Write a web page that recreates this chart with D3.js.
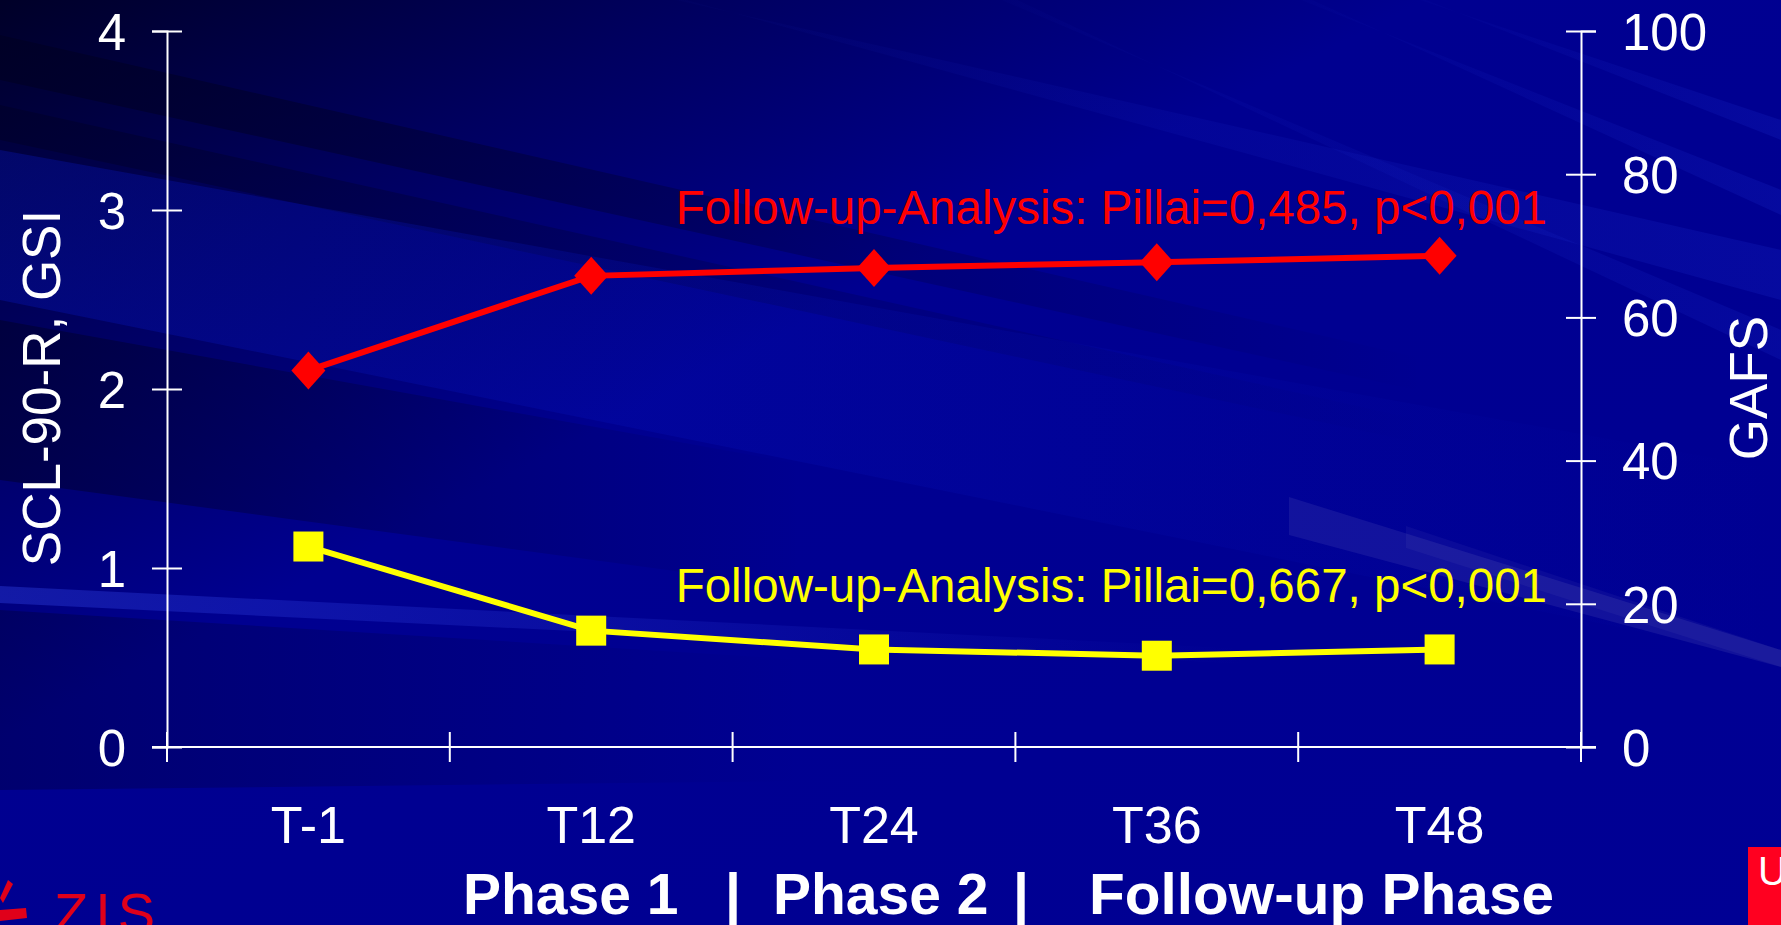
<!DOCTYPE html>
<html>
<head>
<meta charset="utf-8">
<script src="https://cdn.jsdelivr.net/npm/d3@7"></script>
<style>
  html, body { margin: 0; padding: 0; background: #000088; overflow: hidden; }
  svg { display: block; }
  text { font-family: "Liberation Sans", Arial, Helvetica, sans-serif; }
</style>
</head>
<body>
<svg id="chart" width="1781" height="925"></svg>
<script>
// ---- data ----
const categories = ["T-1", "T12", "T24", "T36", "T48"];
const gsiValues  = [1.12, 0.65, 0.545, 0.51, 0.545];   // SCL-90-R GSI (left axis)
const gafsValues = [52.6, 65.8, 66.9, 67.7, 68.6];     // GAFS (right axis)
const gsiTicks   = [0, 1, 2, 3, 4];
const gafsTicks  = [0, 20, 40, 60, 80, 100];
const gsiTitle   = "SCL-90-R, GSI";
const gafsTitle  = "GAFS";
const gafsNote   = "Follow-up-Analysis: Pillai=0,485, p<0,001";
const gsiNote    = "Follow-up-Analysis: Pillai=0,667, p<0,001";
const phaseLabels = ["Phase 1", "|", "Phase 2", "|", "Follow-up Phase"];

// ---- layout ----
const W = 1781, H = 925;
const plot = { left: 167, right: 1581, top: 31, bottom: 747 };

const svg = d3.select("#chart");
const defs = svg.append("defs");

// ---- slide background: navy with diagonal streaks ----
const bgGrad = defs.append("linearGradient").attr("id", "bgGrad")
  .attr("x1", "0").attr("y1", "0").attr("x2", "1").attr("y2", "1");
bgGrad.append("stop").attr("offset", "0%").attr("stop-color", "#000028");
bgGrad.append("stop").attr("offset", "20%").attr("stop-color", "#000060");
bgGrad.append("stop").attr("offset", "40%").attr("stop-color", "#000090");
bgGrad.append("stop").attr("offset", "100%").attr("stop-color", "#000094");
svg.append("rect").attr("width", W).attr("height", H).attr("fill", "url(#bgGrad)");

// horizontal fades so each streak dissolves towards its far end
function fade(id, colour, reverse, end) {
  const g = defs.append("linearGradient").attr("id", id)
    .attr("x1", reverse ? "1" : "0").attr("y1", "0").attr("x2", reverse ? "0" : "1").attr("y2", "0");
  g.append("stop").attr("offset", "0%").attr("stop-color", colour).attr("stop-opacity", 1);
  g.append("stop").attr("offset", end).attr("stop-color", colour).attr("stop-opacity", 0);
}
fade("fadeDark", "#000020", false, "80%");
fade("fadeDarkShort", "#000020", false, "45%");
fade("fadeBright", "#0818cc", false, "100%");
fade("fadeLine", "#2a3ad8", false, "70%");
fade("fadeTop", "#1828c8", true, "100%");

// each streak: corner points, fill, opacity
const streaks = [
  [[[0, 35], [0, 80], [W, 470], [W, 440]], "url(#fadeDark)", 0.55],
  [[[0, 105], [0, 140], [W, 520], [W, 500]], "url(#fadeDark)", 0.40],
  [[[0, 150], [0, 300], [W, 660], [W, 470]], "url(#fadeBright)", 0.30],
  [[[0, 320], [0, 480], [W, 720], [W, 640]], "url(#fadeDarkShort)", 0.45],
  [[[0, 610], [0, 790], [W, 770], [W, 720]], "url(#fadeDarkShort)", 0.30],
  [[[0, 586], [0, 603], [W, 690], [W, 676]], "url(#fadeLine)", 0.45],
  [[[500, -40], [540, -40], [W, 300], [W, 250]], "url(#fadeTop)", 0.25],
  [[[860, -60], [890, -60], [W, 360], [W, 330]], "url(#fadeTop)", 0.22],
  [[[1200, -40], [1225, -40], [W, 215], [W, 190]], "url(#fadeTop)", 0.25],
  [[[1330, -30], [1350, -30], [W, 140], [W, 120]], "url(#fadeTop)", 0.25],
  [[[1289, 497], [W, 650], [W, 667], [1289, 535]], "#ffffff", 0.07],
  [[[1406, 526], [W, 650], [W, 667], [1406, 548]], "#ffffff", 0.04]
];
svg.append("g").selectAll("polygon").data(streaks).join("polygon")
  .attr("points", d => d[0].join(" "))
  .attr("fill", d => d[1]).attr("opacity", d => d[2]);

// ---- scales ----
const x = d3.scaleBand().domain(categories).range([plot.left, plot.right]);
const yL = d3.scaleLinear().domain([0, 4]).range([plot.bottom, plot.top]);
const yR = d3.scaleLinear().domain([0, 100]).range([plot.bottom, plot.top]);

const axisColor = "#ffffff";
const tick = 15;

// left axis
const gL = svg.append("g").attr("transform", `translate(${plot.left},0)`)
  .call(d3.axisLeft(yL).tickValues(gsiTicks).tickSize(tick).tickPadding(26).tickFormat(d3.format("d")));
// right axis
const gR = svg.append("g").attr("transform", `translate(${plot.right},0)`)
  .call(d3.axisRight(yR).tickValues(gafsTicks).tickSize(tick).tickPadding(26).tickFormat(d3.format("d")));
[gL, gR].forEach(g => {
  g.select(".domain").attr("stroke", axisColor).attr("stroke-width", 2);
  g.selectAll(".tick line").attr("x1", -tick).attr("x2", tick)
    .attr("stroke", axisColor).attr("stroke-width", 2);
  g.selectAll(".tick text").attr("fill", "#ffffff").attr("font-size", 51).attr("dy", "0.36em");
});

// bottom axis: ticks on band boundaries, labels centred in each band
const gB = svg.append("g").attr("transform", `translate(0,${plot.bottom})`);
gB.append("line").attr("x1", plot.left - tick).attr("x2", plot.right + tick)
  .attr("stroke", axisColor).attr("stroke-width", 2);
const edges = categories.map(c => x(c)).concat([x(categories[categories.length - 1]) + x.bandwidth()]);
gB.selectAll("line.edge").data(edges).join("line").attr("class", "edge")
  .attr("x1", d => d).attr("x2", d => d).attr("y1", -tick).attr("y2", tick)
  .attr("stroke", axisColor).attr("stroke-width", 2);
gB.selectAll("text.cat").data(categories).join("text").attr("class", "cat")
  .attr("x", d => x(d) + x.bandwidth() / 2).attr("y", 96)
  .attr("text-anchor", "middle").attr("fill", "#ffffff").attr("font-size", 52)
  .text(d => d);

// axis titles
const titleY = 388;
svg.append("text")
  .attr("transform", `translate(${60},${titleY}) rotate(-90)`)
  .attr("text-anchor", "middle").attr("fill", "#ffffff").attr("font-size", 53)
  .text(gsiTitle);
svg.append("text")
  .attr("transform", `translate(${1767},${titleY}) rotate(-90)`)
  .attr("text-anchor", "middle").attr("fill", "#ffffff").attr("font-size", 53)
  .text(gafsTitle);

// ---- series ----
const cx = c => x(c) + x.bandwidth() / 2;

// GAFS: red line with diamonds
const gafsLine = d3.line().x((d, i) => cx(categories[i])).y(d => yR(d));
svg.append("path").datum(gafsValues).attr("d", gafsLine)
  .attr("fill", "none").attr("stroke", "#ff0000").attr("stroke-width", 6);
svg.append("g").selectAll("path").data(gafsValues).join("path")
  .attr("transform", (d, i) => `translate(${cx(categories[i])},${yR(d)})`)
  .attr("d", "M0,-19L17,0L0,19L-17,0Z").attr("fill", "#ff0000");

// GSI: yellow line with squares
const gsiLine = d3.line().x((d, i) => cx(categories[i])).y(d => yL(d));
svg.append("path").datum(gsiValues).attr("d", gsiLine)
  .attr("fill", "none").attr("stroke", "#ffff00").attr("stroke-width", 6);
svg.append("g").selectAll("rect").data(gsiValues).join("rect")
  .attr("x", (d, i) => cx(categories[i]) - 15).attr("y", d => yL(d) - 15)
  .attr("width", 30).attr("height", 30).attr("fill", "#ffff00");

// ---- annotations ----
svg.append("text").attr("x", 1547).attr("y", 224).attr("text-anchor", "end")
  .attr("fill", "#ff0000").attr("font-size", 47.5).text(gafsNote);
svg.append("text").attr("x", 1547).attr("y", 602).attr("text-anchor", "end")
  .attr("fill", "#ffff00").attr("font-size", 47.5).text(gsiNote);

// ---- phase caption ----
const phaseX = [463, 733, 773, 1021, 1089];
const phaseAnchor = ["start", "middle", "start", "middle", "start"];
svg.append("g").selectAll("text").data(phaseLabels).join("text")
  .attr("x", (d, i) => phaseX[i]).attr("y", 914)
  .attr("text-anchor", (d, i) => phaseAnchor[i])
  .attr("fill", "#ffffff").attr("font-size", 57).attr("font-weight", "bold")
  .each(function (d, i) {
    if (i === 4) d3.select(this).attr("textLength", 465).attr("lengthAdjust", "spacingAndGlyphs");
  })
  .text(d => d);

// ---- footer logos ----
const logo = svg.append("g");
logo.append("path").attr("d", "M0,898 L8,880 L13,884 L3,903 Z").attr("fill", "#e0001a");
logo.append("path").attr("d", "M0,910 L26,908 L27,918 L0,921 Z").attr("fill", "#e0001a");
logo.append("text").attr("x", 54).attr("y", 932).attr("fill", "#e0001a")
  .attr("font-size", 56).attr("letter-spacing", 7).text("ZIS");
svg.append("rect").attr("x", 1748).attr("y", 847).attr("width", W - 1748).attr("height", H - 847)
  .attr("fill", "#ff0020");
svg.append("text").attr("x", 1758).attr("y", 885).attr("fill", "#ffffff")
  .attr("font-size", 40).text("U");
</script>
</body>
</html>
